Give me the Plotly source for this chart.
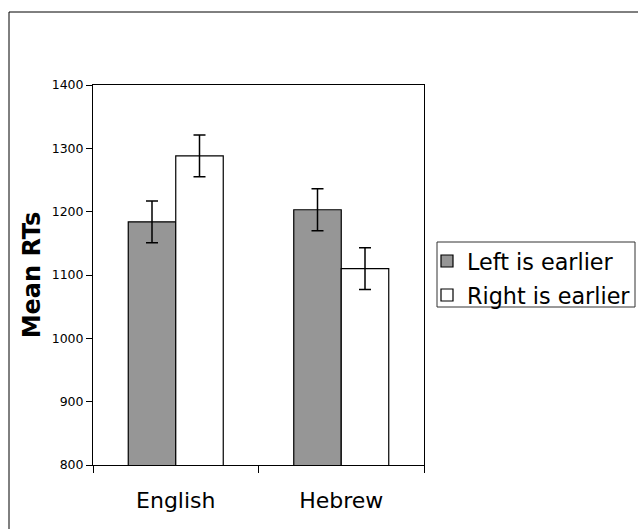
import plotly.graph_objects as go

categories = ["English", "Hebrew"]
left_values = [1184, 1203]
left_errors = [33, 33]
right_values = [1288, 1110]
right_errors = [33, 33]
series_names = ["Left is earlier", "Right is earlier"]
y_ticks = [800, 900, 1000, 1100, 1200, 1300, 1400]

FONT = "DejaVu Sans, Verdana, sans-serif"
W, H = 638, 529
PL, PT, PW, PH = 93, 85, 331, 380


def px(x):  # figure x pixel -> paper
    return (x - PL) / PW


def py(y):  # figure y pixel -> paper
    return (PT + PH - y) / PH


fig = go.Figure()
fig.add_trace(go.Bar(
    x=categories, y=left_values, name=series_names[0], legendgroup="a",
    marker=dict(color="#969696", line=dict(color="black", width=1.2)),
    error_y=dict(type="data", array=left_errors, color="black", thickness=1.5, width=6),
))
fig.add_trace(go.Bar(
    x=categories, y=right_values, name=series_names[1], legendgroup="b",
    marker=dict(color="white", line=dict(color="black", width=1.2)),
    error_y=dict(type="data", array=right_errors, color="black", thickness=1.5, width=6),
))

fig.update_layout(
    width=W, height=H,
    margin=dict(l=PL, r=W - PL - PW, t=PT, b=H - PT - PH, autoexpand=False),
    paper_bgcolor="white", plot_bgcolor="white",
    barmode="group", bargap=0.426, bargroupgap=0,
    font=dict(family=FONT, color="black"),
    showlegend=True,
    legend=dict(
        x=px(427), y=py(240), xanchor="left", yanchor="top",
        borderwidth=0, bgcolor="rgba(0,0,0,0)",
        font=dict(size=22.3, family=FONT), traceorder="grouped", tracegroupgap=2,
    ),
)
fig.update_xaxes(
    type="category", tickson="boundaries", ticks="outside", ticklen=7,
    tickcolor="black", showline=True, linecolor="black", linewidth=1,
    mirror=True, showgrid=False, tickfont=dict(size=22, family=FONT),
    ticklabelstandoff=16,
)
fig.update_yaxes(
    range=[800, 1400], tickvals=y_ticks, ticks="outside", ticklen=6,
    tickcolor="black", showline=True, linecolor="black", linewidth=1,
    mirror=True, showgrid=False, zeroline=False, tickfont=dict(size=12.5, family=FONT),
    title=dict(text="<b>Mean RTs</b>", font=dict(size=24, family=FONT), standoff=4),
)

# outer frame around the whole chart (runs past the right and bottom edges)
fig.add_shape(type="rect", xref="paper", yref="paper",
              x0=px(9), x1=px(W + 10), y0=py(H + 10), y1=py(12),
              line=dict(color="black", width=1), layer="below")
# legend box
fig.add_shape(type="rect", xref="paper", yref="paper",
              x0=px(437), x1=px(635), y0=py(307), y1=py(242),
              line=dict(color="#333333", width=1), fillcolor="white", layer="below")

fig.write_html(
    "out.html",
    config={"displayModeBar": False},
    post_script="document.body.style.margin='0';document.body.style.overflow='hidden';",
)
